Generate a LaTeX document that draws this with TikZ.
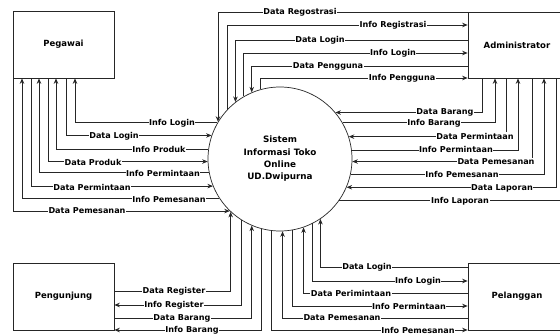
\documentclass[tikz,border=0pt]{standalone}
\usepackage{fontspec}
\setmainfont{DejaVu Sans}
\usetikzlibrary{arrows.meta}
\begin{document}
\begin{tikzpicture}[x=1pt,y=-1pt,
  line/.style={draw=black!85,line width=0.7pt},
  tosys/.style={line,-{Stealth[length=5.5pt,width=4.5pt]}},
  toent/.style={line,{Stealth[length=5.5pt,width=4.5pt]}-},
  lbl/.style={fill=white,inner sep=0.6pt,font=\bfseries\fontsize{8.1}{9}\selectfont},
  entity/.style={draw=black!85,line width=0.7pt,inner sep=0pt,
    font=\bfseries\fontsize{8.5}{10}\selectfont}]
\useasboundingbox (0,0) rectangle (560,334);

\node[entity,minimum width=101pt,minimum height=67pt] (peg) at (63.5,44.5) {Pegawai};
\node[entity,minimum width=98pt,minimum height=66pt] (adm) at (517,45) {Administrator};
\node[entity,minimum width=101pt,minimum height=67pt] (pen) at (63.5,296.5) {Pengunjung};
\node[entity,minimum width=98pt,minimum height=67pt] (pel) at (517,296.5) {Pelanggan};
\node[draw=black!85,line width=0.7pt,circle,minimum size=144pt,inner sep=0pt,align=center,
  font=\bfseries\fontsize{8.8}{12.3}\selectfont] (sys) at (280,159)
  {Sistem\\Informasi Toko\\Online\\UD.Dwipurna};

% Administrator (top)
\foreach \x/\y/\t/\lx/\s [count=\i] in {
  218/12/Data Regostrasi/300/tosys,
  227/25/Info Registrasi/393/toent,
  235/40/Data Login/320/tosys,
  243/53/Info Login/393/toent,
  251/66/Data Pengguna/328/tosys,
  259/78/Info Pengguna/402/toent}{
  \pgfmathsetmacro\ang{acos((\x-280)/72)}
  \draw[\s] (adm.west |- 0,\y) -| (sys.\ang);
  \node[lbl] (ta\i) at (\lx,\y) {\t};
}

% Pegawai (left)
\foreach \x/\y/\t/\lx/\s [count=\i] in {
  75/123/Info Login/172/toent,
  66/136/Data Login/114/tosys,
  56/149/Info Produk/159/toent,
  48/162/Data Produk/93/tosys,
  39/173/Info Permintaan/163/toent,
  31/187/Data Permintaan/92/tosys,
  22/199/Info Pemesanan/169/toent,
  13/211/Data Pemesanan/87/tosys}{
  \pgfmathsetmacro\ang{180-asin((159-\y)/72)}
  \draw[\s] (peg.south -| \x,0) |- (sys.\ang);
  \node[lbl] (tp\i) at (\lx,\y) {\t};
}

% Administrator (right)
\foreach \x/\y/\t/\lx/\s [count=\i] in {
  482/112/Data Barang/445/tosys,
  495/123/Info Barang/434/toent,
  506/136/Data Permintaan/475/tosys,
  518/149/Info Permintaan/456/toent,
  532/162/Data Pemesanan/496/tosys,
  544/174/Info Pemesanan/462/toent,
  556/188/Data Laporan/502/tosys,
  568/201/Info Laporan/460/toent}{
  \pgfmathsetmacro\ang{asin((159-\y)/72)}
  \draw[\s] (adm.south -| \x,0) |- (sys.\ang);
  \node[lbl] (tr\i) at (\lx,\y) {\t};
}

% Pengunjung (bottom left)
\foreach \x/\y/\t/\lx/\s [count=\i] in {
  230/291/Data Register/174/tosys,
  241/305/Info Register/174/toent,
  251/318/Data Barang/182/tosys,
  261/330/Info Barang/192/toent}{
  \pgfmathsetmacro\ang{-acos((\x-280)/72)}
  \draw[\s] (pen.east |- 0,\y) -| (sys.\ang);
  \node[lbl] (tu\i) at (\lx,\y) {\t};
}

% Pelanggan (bottom right)
\foreach \x/\y/\t/\lx/\s [count=\i] in {
  320/267/Data Login/367/tosys,
  312/281/Info Login/418/toent,
  303/293/Data Perimintaan/351/tosys,
  292/306/Info Permintaan/409/toent,
  282/318/Data Pemesanan/342/tosys,
  271/330/Info Pemesanan/418/toent}{
  \pgfmathsetmacro\ang{-acos((\x-280)/72)}
  \draw[\s] (pel.west |- 0,\y) -| (sys.\ang);
  \node[lbl] (tc\i) at (\lx,\y) {\t};
}
\end{tikzpicture}
\end{document}
